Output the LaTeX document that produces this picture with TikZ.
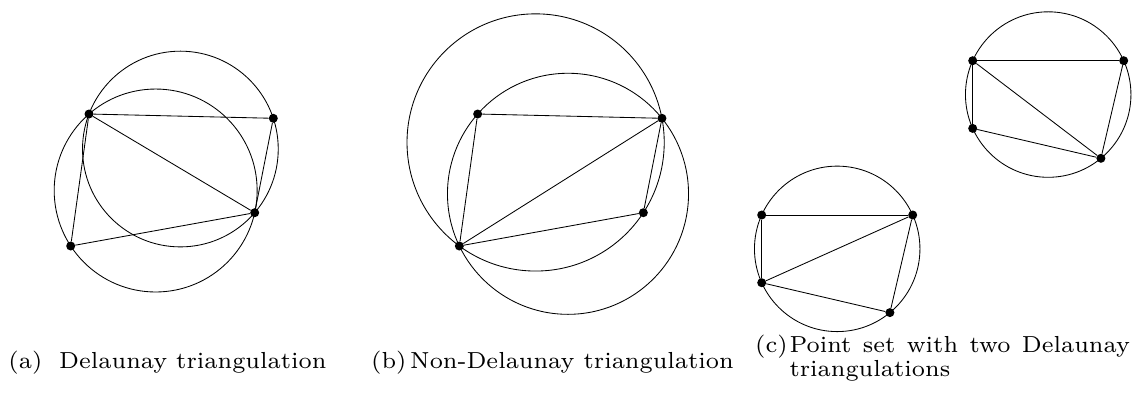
\documentclass[tikz,border=0pt]{standalone}
\usepackage{fontspec}
\newfontfamily\capfont{lmroman7-regular.otf}
\tikzset{
  ptdot/.style={circle,fill=black,inner sep=0pt,minimum size=9pt},
  edge/.style={line width=0.85pt},
  circ/.style={line width=0.85pt},
  captxt/.style={anchor=base west,inner sep=0pt,font=\capfont\fontsize{23.2}{24}\selectfont}
}
\begin{document}
\begin{tikzpicture}[x=1pt,y=-1pt]
\useasboundingbox (0,0) rectangle (1141,392);
% (a)
\draw[circ] (180.38,149.02) circle[radius=97.86pt];
\draw[circ] (155.67,190.51) circle[radius=101.48pt];
\node[ptdot] (a1) at (89,114) {};
\node[ptdot] (a2) at (273.3,118.3) {};
\node[ptdot] (a3) at (254.7,212.7) {};
\node[ptdot] (a4) at (70.7,246) {};
\draw[edge] (a1) -- (a2);
\draw[edge] (a2) -- (a3);
\draw[edge] (a1) -- (a3);
\draw[edge] (a1) -- (a4);
\draw[edge] (a4) -- (a3);
% (b)
\draw[circ] (568.0,193.79) circle[radius=120.53pt];
\draw[circ] (535.62,142.44) circle[radius=128.6pt];
\node[ptdot] (b1) at (477.65,114) {};
\node[ptdot] (b2) at (661.95,118.3) {};
\node[ptdot] (b3) at (643.35,212.7) {};
\node[ptdot] (b4) at (459.35,246) {};
\draw[edge] (b1) -- (b2);
\draw[edge] (b2) -- (b3);
\draw[edge] (b2) -- (b4);
\draw[edge] (b1) -- (b4);
\draw[edge] (b4) -- (b3);
% (c) lower
\draw[circ] (837.2,248.85) circle[radius=82.74pt];
\node[ptdot] (c1) at (761.7,215) {};
\node[ptdot] (c2) at (912.7,215) {};
\node[ptdot] (c3) at (889.9,312.6) {};
\node[ptdot] (c4) at (761.7,282.7) {};
\draw[edge] (c1) -- (c2);
\draw[edge] (c2) -- (c3);
\draw[edge] (c2) -- (c4);
\draw[edge] (c1) -- (c4);
\draw[edge] (c4) -- (c3);
% (c) upper
\draw[circ] (1048.2,94.55) circle[radius=82.74pt];
\node[ptdot] (d1) at (972.7,60.7) {};
\node[ptdot] (d2) at (1123.7,60.7) {};
\node[ptdot] (d3) at (1100.9,158.3) {};
\node[ptdot] (d4) at (972.7,128.4) {};
\draw[edge] (d1) -- (d2);
\draw[edge] (d2) -- (d3);
\draw[edge] (d1) -- (d3);
\draw[edge] (d1) -- (d4);
\draw[edge] (d4) -- (d3);
% captions
\node[captxt] (la) at (8.3,368) {(a)};
\node[captxt] (ta) at (59,368) {Delaunay triangulation};
\node[captxt] (lb) at (371,368) {(b)};
\node[captxt] (tb) at (410,368) {Non-Delaunay triangulation};
\node[captxt] (lc) at (755,352.7) {(c)};
\node[captxt] (tc) at (789.3,352.7) {\makebox[340.5pt][s]{Point set with two Delaunay}};
\node[captxt] (tc2) at (789.3,376.7) {triangulations};
\end{tikzpicture}
\end{document}
